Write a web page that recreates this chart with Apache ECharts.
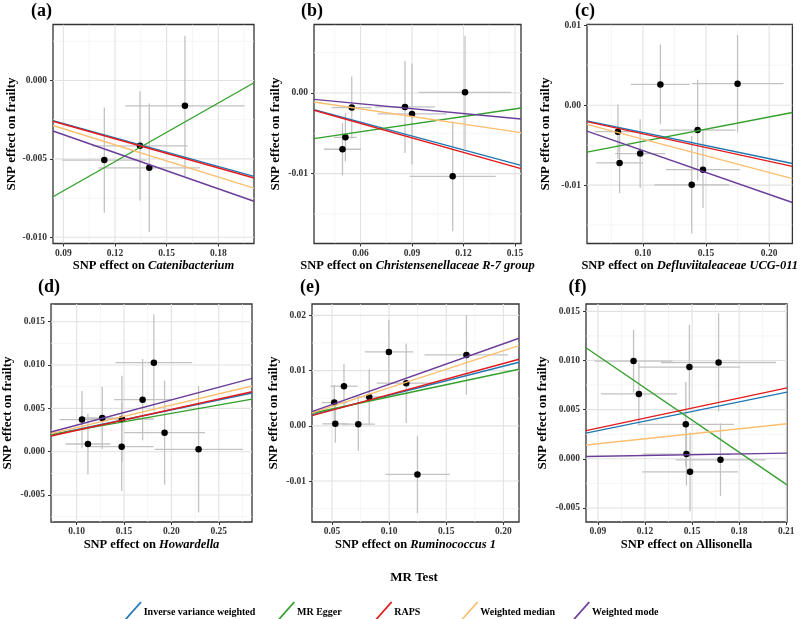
<!DOCTYPE html>
<html>
<head>
<meta charset="utf-8">
<title>MR scatter plots</title>
<script src="https://cdn.jsdelivr.net/npm/echarts@6/dist/echarts.min.js"></script>
<style>
  html, body { margin: 0; padding: 0; background: #fff; }
  #chart { width: 800px; height: 619px; }
</style>
</head>
<body>
<div id="chart"></div>
<script>
const methods = ['Inverse variance weighted', 'MR Egger', 'RAPS', 'Weighted median', 'Weighted mode'];
const methodColors = ['#1F78B4', '#33A02C', '#E31A1C', '#FDBF6F', '#6A3D9A'];

// (a) Catenibacterium
const bxA = [0.1138, 0.1345, 0.1399, 0.1606];
const byA = [-0.00508, -0.00417, -0.00557, -0.00162];
const seXA = [0.0245, 0.0277, 0.0295, 0.0346];
const seYA = [0.00336, 0.00348, 0.0041, 0.00447];
const slopeA = [-0.0305, 0.0623, -0.0310, -0.0342, -0.0384]; // same order as methods
const interA = [0, -0.01265, 0, 0, 0];
const xTicksA = ['0.09', '0.12', '0.15', '0.18'];
const yTicksA = ['-0.010', '-0.005', '0.000'];
const xRangeA = [0.084, 0.2007];
const yRangeA = [-0.0104, 0.00357];

// (b) Christensenellaceae R-7 group
const bxB = [0.0495, 0.0512, 0.0549, 0.0859, 0.09, 0.1209, 0.1137];
const byB = [-0.00698, -0.0055, -0.00182, -0.00174, -0.0026, 0.00008, -0.01033];
const seXB = [0.0109, 0.0066, 0.0117, 0.0175, 0.0202, 0.027, 0.0251];
const seYB = [0.00325, 0.003, 0.00387, 0.00569, 0.00626, 0.007, 0.0068];
const slopeB = [-0.0572, 0.0315, -0.05995, -0.0315, -0.02015];
const interB = [-0.00019, -0.0067, -0.00018, -0.00008, -0.00013];
const xTicksB = ['0.06', '0.09', '0.12', '0.15'];
const yTicksB = ['-0.01', '0.00'];
const xRangeB = [0.0329, 0.1535];
const yRangeB = [-0.01866, 0.00848];

// (c) Defluviitaleaceae UCG-011
const bxC = [0.0803, 0.0816, 0.0979, 0.1139, 0.1434, 0.1387, 0.1476, 0.175];
const byC = [-0.00332, -0.00723, -0.00605, 0.0026, -0.00311, -0.00996, -0.00807, 0.00269];
const seXC = [0.0184, 0.0184, 0.0198, 0.0233, 0.03, 0.0296, 0.0294, 0.0363];
const seYC = [0.0034, 0.0038, 0.0043, 0.005, 0.0063, 0.0061, 0.0048, 0.0061];
const slopeC = [-0.0328, 0.0305, -0.0344, -0.0418, -0.055];
const interC = [-0.00014, -0.00758, -0.00014, -0.00007, -0.00017];
const xTicksC = ['0.10', '0.15', '0.20'];
const yTicksC = ['-0.01', '0.00', '0.01'];
const xRangeC = [0.0558, 0.2184];
const yRangeC = [-0.01731, 0.0101];

// (d) Howardella
const bxD = [0.1056, 0.127, 0.1478, 0.1696, 0.1815, 0.1928, 0.1119, 0.1475, 0.2287];
const byD = [0.00371, 0.00389, 0.00377, 0.006, 0.01027, 0.00219, 0.00089, 0.00058, 0.00028];
const seXD = [0.0238, 0.0206, 0.0338, 0.03, 0.0405, 0.0427, 0.0238, 0.0338, 0.0466];
const seYD = [0.0033, 0.0036, 0.005, 0.0047, 0.0056, 0.006, 0.0035, 0.0051, 0.0073];
const slopeD = [0.0228, 0.0193, 0.0241, 0.0259, 0.0292];
const interD = [0.00027, 0.00057, 0.00005, 0.00019, 0.00014];
const xTicksD = ['0.10', '0.15', '0.20', '0.25'];
const yTicksD = ['-0.005', '0.000', '0.005', '0.010', '0.015'];
const xRangeD = [0.0729, 0.2851];
const yRangeD = [-0.00811, 0.01704];

// (e) Ruminococcus 1
const bxE = [0.052, 0.0605, 0.0826, 0.0998, 0.115, 0.1677, 0.0529, 0.073, 0.1248];
const byE = [0.00421, 0.00718, 0.00524, 0.01338, 0.00772, 0.01284, 0.00036, 0.0003, -0.0088];
const seXE = [0.011, 0.012, 0.0145, 0.0212, 0.0258, 0.0367, 0.0114, 0.0146, 0.0281];
const seYE = [0.0032, 0.004, 0.005, 0.0058, 0.0072, 0.0072, 0.0034, 0.0048, 0.007];
const slopeE = [0.0525, 0.0439, 0.0563, 0.0672, 0.0732];
const interE = [0.00029, 0.00086, 0.00003, 0.00017, 0.00021];
const xTicksE = ['0.05', '0.10', '0.15', '0.20'];
const yTicksE = ['-0.01', '0.00', '0.01', '0.02'];
const xRangeE = [0.0325, 0.2137];
const yRangeE = [-0.01741, 0.02206];

// (f) Allisonella
const bxF = [0.1127, 0.1161, 0.1483, 0.1669, 0.146, 0.1464, 0.1681, 0.1487];
const byF = [0.00994, 0.0066, 0.00933, 0.0098, 0.00351, 0.00048, -0.0001, -0.00133];
const seXF = [0.0248, 0.0242, 0.0325, 0.0367, 0.0308, 0.028, 0.0286, 0.0305];
const seYF = [0.0032, 0.0032, 0.0043, 0.005, 0.0043, 0.0032, 0.0037, 0.004];
const slopeF = [0.0325, -0.1089, 0.034, 0.0169, 0.00265];
const interF = [-0.00006, 0.02027, 0.00006, 0.00001, 0.00002];
const xTicksF = ['0.09', '0.12', '0.15', '0.18', '0.21'];
const yTicksF = ['-0.005', '0.000', '0.005', '0.010', '0.015'];
const xRangeF = [0.0824, 0.2105];
const yRangeF = [-0.00643, 0.01575];

const panels = [
  { bx: bxA, by: byA, seX: seXA, seY: seYA, slope: slopeA, inter: interA, xt: xTicksA, yt: yTicksA, xr: xRangeA, yr: yRangeA,
    tag: '(a)', xName: 'SNP effect on {i|Catenibacterium}' },
  { bx: bxB, by: byB, seX: seXB, seY: seYB, slope: slopeB, inter: interB, xt: xTicksB, yt: yTicksB, xr: xRangeB, yr: yRangeB,
    tag: '(b)', xName: 'SNP effect on {i|Christensenellaceae R-7 group}' },
  { bx: bxC, by: byC, seX: seXC, seY: seYC, slope: slopeC, inter: interC, xt: xTicksC, yt: yTicksC, xr: xRangeC, yr: yRangeC,
    tag: '(c)', xName: 'SNP effect on {i|Defluviitaleaceae UCG-011}' },
  { bx: bxD, by: byD, seX: seXD, seY: seYD, slope: slopeD, inter: interD, xt: xTicksD, yt: yTicksD, xr: xRangeD, yr: yRangeD,
    tag: '(d)', xName: 'SNP effect on {i|Howardella}' },
  { bx: bxE, by: byE, seX: seXE, seY: seYE, slope: slopeE, inter: interE, xt: xTicksE, yt: yTicksE, xr: xRangeE, yr: yRangeE,
    tag: '(e)', xName: 'SNP effect on {i|Ruminococcus 1}' },
  { bx: bxF, by: byF, seX: seXF, seY: seYF, slope: slopeF, inter: interF, xt: xTicksF, yt: yTicksF, xr: xRangeF, yr: yRangeF,
    tag: '(f)', xName: 'SNP effect on Allisonella' }
];

// layout: [left, top, width, height] of each plot panel
const panelBoxes = [
  [53, 24.5, 201, 219], [314, 24.5, 207, 219], [587, 24.5, 206, 219],
  [51, 304, 201, 218], [312, 304, 207, 218], [586, 304, 201, 218]
];
const yNameGaps = [31, 32, 35, 37, 32, 37];
const tagPos = [[41.5, 11], [312, 11], [585, 11], [49, 287], [310, 287], [577.5, 287]];
const legendLeft = [116.7, 270, 367.3, 453.3, 565];

const fontFam = '"Liberation Serif", "Times New Roman", serif';

function minorOf(ticks, range) {
  const v = ticks.map(Number);
  const step = v[1] - v[0];
  const out = [];
  for (let m = v[0] - step / 2 * Math.ceil((v[0] - range[0]) / step * 2 + 1); m <= range[1] + 1e-12; m += step / 2) {
    if (m >= range[0] && !v.some(t => Math.abs(t - m) < 1e-9)) out.push(m);
  }
  return out;
}

function gridRender(params, api) {
  const cs = params.coordSys;
  const pt = api.coord([api.value(0), api.value(1)]);
  const major = api.value(2) === 1;
  const vertical = api.value(3) === 1;
  const shape = vertical
    ? { x1: pt[0], y1: cs.y, x2: pt[0], y2: cs.y + cs.height }
    : { x1: cs.x, y1: pt[1], x2: cs.x + cs.width, y2: pt[1] };
  return {
    type: 'line', shape: shape,
    style: { stroke: major ? '#E2E2E2' : '#F0F0F0', lineWidth: major ? 1.1 : 0.7 }
  };
}

function errRender(params, api) {
  const x = api.value(0), y = api.value(1), sx = api.value(2), sy = api.value(3);
  const h1 = api.coord([x - sx, y]), h2 = api.coord([x + sx, y]);
  const v1 = api.coord([x, y - sy]), v2 = api.coord([x, y + sy]);
  const style = { stroke: '#C2C2C2', lineWidth: 1.3 };
  return {
    type: 'group',
    children: [
      { type: 'line', shape: { x1: h1[0], y1: h1[1], x2: h2[0], y2: h2[1] }, style: style },
      { type: 'line', shape: { x1: v1[0], y1: v1[1], x2: v2[0], y2: v2[1] }, style: style }
    ]
  };
}

const labelFmt = ticks => v => ticks.find(s => Math.abs(Number(s) - v) < 1e-9) || '';

const grids = [];
const xAxes = [];
const yAxes = [];
const series = [];
const graphics = [];

panels.forEach((p, k) => {
  const box = panelBoxes[k];
  grids.push({
    left: box[0], top: box[1], width: box[2], height: box[3],
    show: true, backgroundColor: '#fff', borderColor: '#333', borderWidth: 1.3
  });
  const xv = p.xt.map(Number);
  const yv = p.yt.map(Number);
  const tickLabel = {
    color: '#333', fontFamily: fontFam, fontWeight: 'bold', fontSize: 9.5
  };
  xAxes.push({
    type: 'value', gridIndex: k, min: p.xr[0], max: p.xr[1],
    axisLine: { show: false, onZero: false },
    splitLine: { show: false },
    axisTick: { show: true, customValues: xv, length: 3, lineStyle: { color: '#333' } },
    axisLabel: Object.assign({ customValues: xv, formatter: labelFmt(p.xt), margin: 5 }, tickLabel),
    name: p.xName, nameLocation: 'middle', nameGap: 15,
    nameTextStyle: {
      color: '#000', fontFamily: fontFam, fontWeight: 'bold', fontSize: 12.5,
      rich: { i: { fontStyle: 'italic', fontWeight: 'bold', fontFamily: fontFam, fontSize: 12.5, color: '#000' } }
    }
  });
  yAxes.push({
    type: 'value', gridIndex: k, min: p.yr[0], max: p.yr[1],
    axisLine: { show: false, onZero: false },
    splitLine: { show: false },
    axisTick: { show: true, customValues: yv, length: 3, lineStyle: { color: '#333' } },
    axisLabel: Object.assign({ customValues: yv, formatter: labelFmt(p.yt), margin: 6 }, tickLabel),
    name: 'SNP effect on frailty', nameLocation: 'middle', nameGap: yNameGaps[k],
    nameTextStyle: { color: '#000', fontFamily: fontFam, fontWeight: 'bold', fontSize: 13 }
  });

  // panel grid lines (major at ticks, minor halfway)
  const xm = (p.xr[0] + p.xr[1]) / 2;
  const ym = (p.yr[0] + p.yr[1]) / 2;
  const gdata = [];
  minorOf(p.xt, p.xr).forEach(v => gdata.push([v, ym, 0, 1]));
  minorOf(p.yt, p.yr).forEach(v => gdata.push([xm, v, 0, 0]));
  xv.forEach(v => gdata.push([v, ym, 1, 1]));
  yv.forEach(v => gdata.push([xm, v, 1, 0]));
  series.push({
    type: 'custom', xAxisIndex: k, yAxisIndex: k, clip: true, silent: true, z: 1,
    encode: { x: 0, y: 1 }, data: gdata, renderItem: gridRender
  });

  series.push({
    type: 'custom', xAxisIndex: k, yAxisIndex: k, clip: true, silent: true, z: 2,
    encode: { x: 0, y: 1 },
    data: p.bx.map((x, i) => [x, p.by[i], p.seX[i], p.seY[i]]),
    renderItem: errRender
  });

  series.push({
    type: 'scatter', xAxisIndex: k, yAxisIndex: k, z: 3, silent: true,
    symbolSize: 6.5, itemStyle: { color: '#000', opacity: 1 },
    data: p.bx.map((x, i) => [x, p.by[i]])
  });

  methods.forEach((m, j) => {
    const b = p.slope[j], a = p.inter[j];
    series.push({
      type: 'line', name: m, xAxisIndex: k, yAxisIndex: k, z: 4, clip: true,
      showSymbol: false, symbol: 'none', silent: true,
      color: methodColors[j],
      itemStyle: { color: methodColors[j] },
      lineStyle: { color: methodColors[j], width: 1.4 },
      data: [[p.xr[0], a + b * p.xr[0]], [p.xr[1], a + b * p.xr[1]]]
    });
  });

  graphics.push({
    type: 'text', x: tagPos[k][0], y: tagPos[k][1],
    style: {
      text: p.tag, fill: '#000', font: 'bold 18px ' + fontFam,
      textAlign: 'center', textVerticalAlign: 'middle'
    }
  });
});

graphics.push({
  type: 'text', x: 414, y: 578,
  style: {
    text: 'MR Test', fill: '#000', font: 'bold 13px ' + fontFam,
    textAlign: 'center', textVerticalAlign: 'middle'
  }
});

const legends = methods.map((m, i) => ({
  data: [m], left: legendLeft[i], top: 596.5, orient: 'horizontal',
  icon: 'path://M0,21 L18.6,0 L20,1 L1.4,22 Z',
  itemWidth: 20, itemHeight: 22, selectedMode: false,
  textStyle: { color: '#000', fontFamily: fontFam, fontWeight: 'bold', fontSize: 10, padding: [0, 0, 0, -3] }
}));

const chart = echarts.init(document.getElementById('chart'));
chart.setOption({
  backgroundColor: '#fff',
  animation: false,
  grid: grids,
  xAxis: xAxes,
  yAxis: yAxes,
  legend: legends,
  graphic: graphics,
  series: series
});
</script>
</body>
</html>
